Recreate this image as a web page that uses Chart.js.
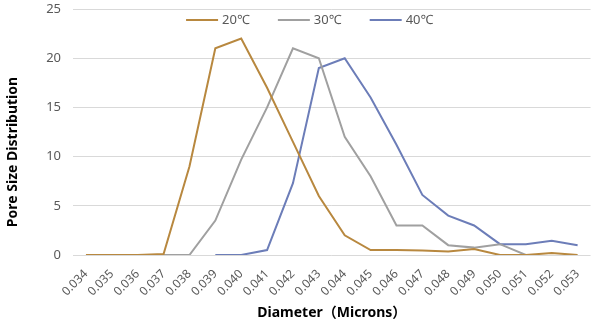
<!DOCTYPE html>
<html>
<head>
<meta charset="utf-8">
<script src="https://cdn.jsdelivr.net/npm/chart.js@4"></script>
<style>
  html, body { margin: 0; padding: 0; background: #fff; }
  #wrap { width: 600px; height: 326px; }
</style>
</head>
<body>
<div id="wrap"><canvas id="poreChart"></canvas></div>
<script>
// diameters (microns)
const diameters = ['0.034', '0.035', '0.036', '0.037', '0.038', '0.039', '0.040', '0.041', '0.042', '0.043',
                   '0.044', '0.045', '0.046', '0.047', '0.048', '0.049', '0.050', '0.051', '0.052', '0.053'];

const temp20 = [0, 0, 0, 0.1, 9, 21, 22, 17, 11.5, 6, 2, 0.5, 0.5, 0.45, 0.35, 0.6, 0, 0, 0.2, 0];
const temp30 = [null, null, null, 0, 0, 3.5, 9.7, 15, 21, 20, 12, 8, 3, 3, 1, 0.75, 1.1, 0, null, null];
const temp40 = [null, null, null, null, null, 0, 0, 0.5, 7.3, 19, 20, 16, 11.2, 6.1, 4, 3, 1.1, 1.1, 1.45, 1];

const yTicks = [0, 5, 10, 15, 20, 25];
const yTitle = 'Pore Size Distribution';

const FONT = "'Noto Sans', 'Noto Sans CJK SC', sans-serif";
const GREY_TEXT = '#595959';

// excel-style legend sitting inside the top of the plot, one row
const inlineLegend = {
    id: 'inlineLegend',
    beforeDatasetsDraw(chart, args, opts) {
        const ctx = chart.ctx;
        const area = chart.chartArea;
        ctx.save();
        ctx.font = '13px ' + FONT;
        const items = chart.data.datasets.map(ds => ({
            text: ds.label,
            color: ds.borderColor,
            w: opts.lineLen + opts.gap + ctx.measureText(ds.label).width
        }));
        let total = opts.spacing * (items.length - 1);
        items.forEach(it => total += it.w);
        let x = (area.left + area.right) / 2 - total / 2 + opts.shiftX;
        const y = area.top + opts.offsetY;
        ctx.textBaseline = 'middle';
        ctx.textAlign = 'left';
        items.forEach(it => {
            ctx.strokeStyle = it.color;
            ctx.lineWidth = 2;
            ctx.beginPath();
            ctx.moveTo(x, y);
            ctx.lineTo(x + opts.lineLen, y);
            ctx.stroke();
            ctx.fillStyle = GREY_TEXT;
            ctx.fillText(it.text, x + opts.lineLen + opts.gap, y);
            x += it.w + opts.spacing;
        });
        ctx.restore();
    }
};

// y title: excel centres it on plot + category labels, not just the plot
const yTitlePlugin = {
    id: 'yTitlePlugin',
    afterDraw(chart) {
        const ctx = chart.ctx;
        const xs = chart.scales.x;
        const cy = (chart.chartArea.top + xs.bottom - 30) / 2;
        ctx.save();
        ctx.translate(chart.scales.y.left + 13, cy);
        ctx.rotate(-Math.PI / 2);
        ctx.font = 'bold 14px ' + FONT;
        ctx.fillStyle = '#000';
        ctx.textAlign = 'center';
        ctx.textBaseline = 'middle';
        ctx.fillText(yTitle, 0, 0);
        ctx.restore();
    }
};

function line(label, data, color) {
    return {
        label: label,
        data: data,
        borderColor: color,
        backgroundColor: color,
        borderWidth: 2,
        pointRadius: 0,
        pointHoverRadius: 0,
        tension: 0,
        spanGaps: false
    };
}

new Chart(document.getElementById('poreChart'), {
    type: 'line',
    data: {
        labels: diameters,
        datasets: [
            line('20℃', temp20, '#B8883F'),
            line('30℃', temp30, '#A0A0A0'),
            line('40℃', temp40, '#6C7DB8')
        ]
    },
    options: {
        responsive: true,
        maintainAspectRatio: false,
        animation: false,
        layout: { padding: { left: 0, right: 8, top: 9, bottom: 1 } },
        plugins: {
            tooltip: { enabled: false },
            legend: { display: false },
            inlineLegend: { lineLen: 32, gap: 4, spacing: 28, offsetY: 11, shiftX: -22 }
        },
        scales: {
            x: {
                offset: true,
                grid: { display: false, drawTicks: false },
                border: { display: false },
                ticks: {
                    color: GREY_TEXT,
                    font: { family: FONT, size: 12 },
                    minRotation: 45,
                    maxRotation: 45,
                    autoSkip: false,
                    padding: 12
                },
                title: {
                    display: true,
                    text: 'Diameter（Microns）',
                    color: '#000',
                    font: { family: FONT, size: 14, weight: 'bold' },
                    padding: { top: 4, bottom: 4 }
                },
                afterFit(scale) { scale.height = 70; }
            },
            y: {
                min: 0,
                max: 25,
                grid: { color: '#D9D9D9', lineWidth: 1, drawTicks: false },
                border: { display: false },
                afterBuildTicks(scale) { scale.ticks = yTicks.map(v => ({ value: v })); },
                ticks: {
                    color: GREY_TEXT,
                    font: { family: FONT, size: 13 },
                    padding: 12
                },
                afterFit(scale) {
                    scale.width = 73;
                    scale.paddingTop = 0;
                    scale.paddingBottom = 0;
                }
            }
        }
    },
    plugins: [inlineLegend, yTitlePlugin]
});
</script>
</body>
</html>
